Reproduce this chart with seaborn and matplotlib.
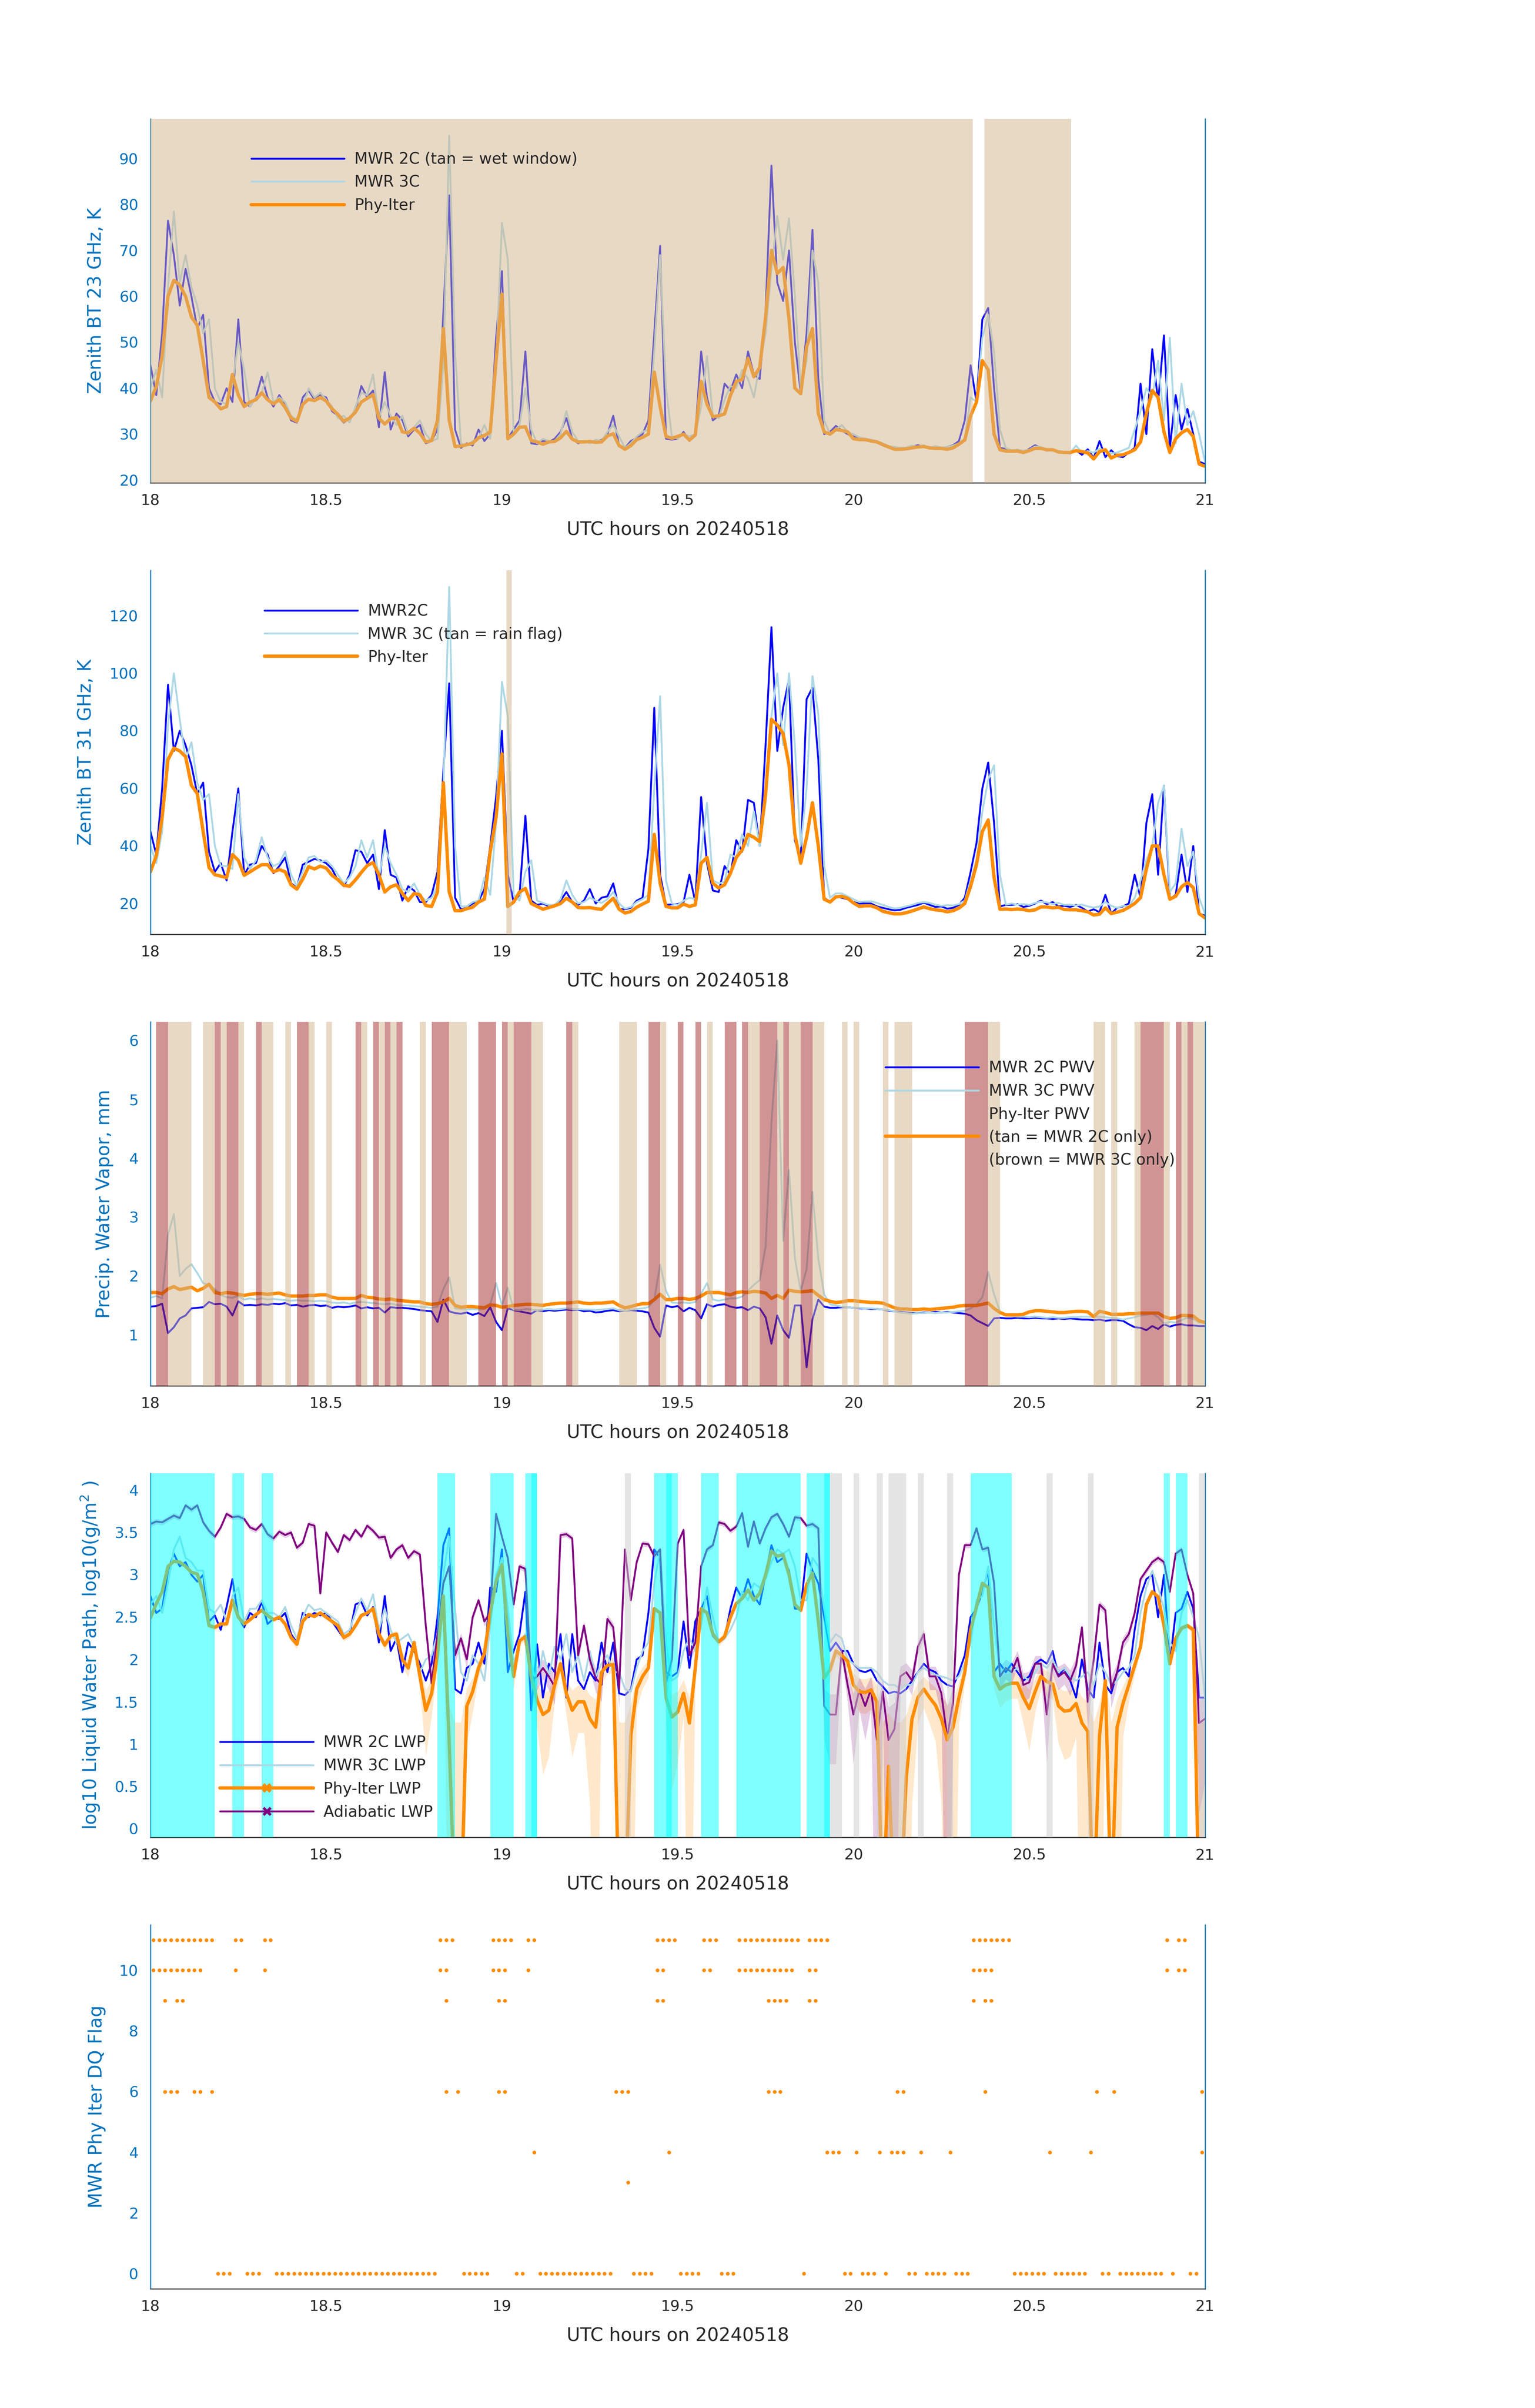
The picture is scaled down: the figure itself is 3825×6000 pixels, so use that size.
import numpy as np
import pandas as pd
import seaborn as sns
from matplotlib import pyplot as plt
from matplotlib.lines import Line2D
from matplotlib.ticker import FormatStrFormatter

# one-minute samples, 18:00 - 21:00 UTC
minutes = np.arange(181)
hours = 18 + minutes / 60.0

# ---------------- zenith brightness temperature, 23 GHz (K) ----------------
phy_bt23 = [
    37.2, 40.4, 47.0, 60.0, 63.5, 62.5, 60.0, 55.5, 53.7, 46.0,
    38.0, 37.0, 35.5, 36.0, 43.0, 38.5, 36.0, 37.0, 37.5, 39.0,
    37.5, 36.6, 37.5, 35.8, 33.5, 32.8, 36.5, 37.6, 37.3, 38.0,
    37.2, 35.5, 34.3, 32.8, 33.5, 34.8, 37.0, 37.8, 38.6, 33.5,
    32.2, 33.4, 33.6, 30.5, 30.3, 31.3, 30.2, 28.3, 28.6, 33.0,
    53.0, 33.0, 27.3, 27.4, 27.7, 28.0, 29.2, 29.7, 30.5, 46.0,
    60.5, 29.0, 30.0, 31.5, 31.6, 28.6, 28.3, 27.8, 28.3, 28.4,
    29.2, 30.6, 28.9, 28.3, 28.3, 28.4, 28.2, 28.3, 29.6, 30.1,
    27.5, 26.7, 27.5, 28.8, 29.3, 30.0, 43.5, 36.0, 29.5, 29.1,
    29.5, 30.0, 28.7, 29.8, 41.5, 36.5, 33.8, 34.0, 34.4, 38.4,
    41.5, 41.9, 46.5, 42.5, 44.5, 55.5, 70.0, 65.0, 66.3, 55.0,
    40.0, 38.8, 49.0, 53.0, 34.5, 30.5, 30.0, 31.0, 30.8, 30.5,
    29.0, 28.8, 28.8, 28.5, 28.3, 27.7, 27.2, 26.7, 26.7, 26.8,
    27.0, 27.2, 27.3, 27.0, 26.9, 26.9, 26.7, 27.0, 27.8, 28.7,
    34.0, 37.0, 46.0, 44.0, 30.0, 26.6, 26.3, 26.3, 26.3, 26.0,
    26.4, 26.9, 26.9, 26.6, 26.6, 26.1, 26.0, 26.0, 26.4, 26.2,
    25.9, 24.6, 26.2, 26.6, 24.8, 25.4, 25.5, 26.0, 26.6, 28.3,
    34.5, 39.5, 38.0, 30.5, 26.0, 29.0, 30.3, 31.0, 29.5, 23.5,
    23.0]
mwr2c_bt23 = [
    45.0, 38.5, 52.0, 76.5, 69.0, 58.0, 66.0, 60.0, 53.0, 56.0,
    40.0, 37.0, 36.5, 40.0, 37.0, 55.0, 37.0, 36.0, 38.0, 42.5,
    38.0, 36.0, 38.5, 36.5, 33.0, 32.5, 38.0, 39.5, 37.5, 38.5,
    38.0, 35.0, 34.0, 32.5, 33.5, 35.0, 40.5, 38.0, 39.5, 31.5,
    43.5, 31.0, 34.5, 33.0, 29.5, 31.0, 32.0, 28.0, 28.5, 31.0,
    56.5, 82.0, 31.0, 27.0, 28.0, 27.5, 31.0, 28.5, 30.0, 51.0,
    65.5, 29.0, 31.0, 33.0, 48.0, 28.0, 27.8, 28.5, 28.3, 29.0,
    30.5, 33.5, 29.0, 28.0, 28.5, 28.3, 28.5, 28.7, 30.0, 34.0,
    27.5, 27.0, 28.5, 29.2, 30.0, 33.0, 52.0, 71.0, 29.0, 28.8,
    29.0, 30.5, 28.5, 30.0, 48.0, 38.0, 33.0, 34.0, 41.0, 39.5,
    43.0, 40.0, 48.0, 43.0, 42.0, 57.0, 88.5, 63.0, 59.0, 70.0,
    50.0, 39.0, 52.0, 74.5, 42.0, 30.0, 30.5, 31.8, 30.8, 30.0,
    29.5, 29.0, 29.0, 28.7, 28.5, 27.8, 27.2, 27.0, 27.0, 27.0,
    27.3, 27.6, 27.2, 27.0, 27.2, 26.8, 27.2, 27.6, 28.5, 33.0,
    45.0, 37.0, 55.0, 57.5, 40.0, 27.0, 26.8, 26.4, 26.6, 26.0,
    26.8, 27.6, 27.0, 26.4, 26.6, 26.2, 26.0, 25.8, 26.5, 25.5,
    26.7, 24.8, 28.5, 25.0, 26.5, 25.2, 25.0, 26.0, 27.0, 41.0,
    30.0, 48.5, 37.0, 51.5, 27.0, 38.5, 31.0, 35.5, 30.0, 24.0,
    23.5]
mwr3c_bt23 = [
    40.0, 44.0, 38.0, 62.0, 78.5, 63.0, 69.0, 62.0, 58.0, 52.0,
    55.0, 40.0, 37.0, 36.5, 41.0, 50.0, 44.0, 36.0, 38.0, 39.0,
    43.5, 37.0, 38.0, 37.0, 34.0, 33.0, 36.0, 40.0, 38.0, 39.0,
    37.5, 36.0, 33.5, 34.0, 32.5, 36.0, 39.0, 38.5, 43.0, 33.5,
    37.0, 34.0, 32.0, 34.0, 30.0, 31.5, 33.0, 30.0, 28.5, 29.0,
    45.0, 95.0, 48.0, 28.0, 27.5, 28.5, 29.0, 32.0, 29.0, 45.0,
    76.0, 68.0, 30.0, 32.0, 40.0, 31.0, 28.0, 29.0, 28.5, 28.5,
    30.0, 35.0, 30.5, 28.5, 28.5, 28.0, 28.8, 28.5, 30.5, 32.0,
    29.5, 27.0, 28.0, 29.5, 30.5, 31.0, 48.0, 69.0, 40.0, 29.5,
    29.0, 30.0, 29.5, 30.0, 36.0, 47.0, 34.0, 33.5, 37.5, 40.5,
    40.0, 44.0, 42.0, 38.0, 45.0, 52.0, 66.0, 77.5, 68.0, 77.0,
    60.0, 40.0, 46.0, 70.0, 63.0, 33.0, 30.0, 31.0, 32.0, 30.5,
    30.0, 29.3, 29.0, 28.8, 28.5, 28.0, 27.4, 27.2, 27.0, 27.1,
    27.5, 27.3, 27.6, 27.0, 27.4, 27.1, 27.2, 27.5, 28.0, 29.0,
    38.0, 37.0, 51.0, 56.0, 48.0, 31.0, 27.0, 26.5, 26.6, 26.4,
    26.6, 27.3, 27.2, 26.7, 26.5, 26.4, 26.1, 26.0, 27.5, 26.0,
    26.3, 26.0, 26.8, 26.5, 25.8, 26.0, 26.5, 27.0, 31.0, 35.0,
    40.0, 38.0, 46.0, 33.0, 51.0, 28.0, 41.0, 32.0, 35.0, 30.0,
    24.0]
bt23_wet_spans = [(18.0, 20.339), (20.372, 20.619)]  # UTC hours

# ---------------- zenith brightness temperature, 31 GHz (K) ----------------
phy_bt31 = [
    31.0, 36.6, 50.0, 70.0, 74.0, 73.0, 71.0, 61.0, 58.2, 45.0,
    32.5, 30.0, 29.5, 29.0, 37.0, 35.0, 29.8, 31.0, 32.3, 33.5,
    33.5, 31.0, 31.8, 31.0, 26.5, 25.0, 28.5, 32.8, 32.0, 33.0,
    32.3, 29.8, 28.3, 26.3, 26.0, 28.2, 30.8, 33.2, 34.2, 30.0,
    24.0, 25.8, 26.5, 23.5, 21.0, 23.5, 23.0, 19.3, 19.0, 24.0,
    62.0, 24.0, 17.5, 17.5, 18.2, 18.7, 20.5, 21.5, 38.0, 50.0,
    72.0, 19.0, 20.5, 24.0, 25.2, 20.0, 19.0, 18.0, 18.6, 19.2,
    20.0, 21.8, 20.5, 18.6, 18.5, 18.6, 18.2, 18.0, 20.0, 21.8,
    18.0, 16.7, 17.2, 18.7, 19.8, 20.8, 44.0, 27.0, 19.0, 18.5,
    18.5, 19.8, 19.0, 19.5, 34.0, 36.0, 27.0, 25.4, 26.5, 30.5,
    36.0, 38.6, 44.0, 43.0, 41.5, 58.0, 84.0, 82.0, 79.0, 68.0,
    44.0, 34.0, 43.0, 55.0, 40.0, 21.5, 20.5, 22.3, 22.5, 21.8,
    20.2, 19.0, 19.2, 19.2, 18.5, 17.3, 16.8, 16.4, 16.4, 16.8,
    17.4, 18.1, 18.8, 18.2, 17.8, 17.6, 17.1, 17.5, 18.4, 20.0,
    26.0, 33.5, 45.0, 49.0, 29.0, 18.0, 18.1, 17.9, 18.1, 17.9,
    17.5, 17.8, 18.8, 18.8, 18.5, 18.7, 17.9, 17.8, 17.8, 17.5,
    17.1, 16.0, 16.3, 18.5, 16.5, 17.0, 17.6, 18.7, 20.0, 22.0,
    32.0, 40.0, 40.0, 30.0, 21.5, 22.5, 25.8, 27.3, 25.5, 16.5,
    15.0]
mwr2c_bt31 = [
    45.0, 37.0, 60.0, 96.0, 73.0, 80.0, 75.0, 68.0, 58.0, 62.0,
    38.0, 31.0, 34.0, 28.0, 45.0, 60.0, 30.0, 33.5, 34.0, 40.0,
    37.0, 30.5, 33.0, 36.0, 27.0, 25.5, 33.5, 34.5, 35.5, 35.0,
    34.0, 32.0, 28.0, 26.0, 30.0, 38.5, 38.0, 34.0, 37.0, 25.0,
    45.5, 30.0, 29.0, 21.0, 26.0, 24.5, 20.5, 20.5, 23.0, 31.0,
    66.0, 96.5, 22.0, 18.0, 18.5, 20.0, 20.8, 25.0, 40.0, 57.0,
    80.0, 30.0, 20.5, 23.0, 50.5, 21.0, 19.5, 20.0, 19.0, 19.5,
    21.0, 24.0, 20.5, 19.5, 21.0, 25.0, 20.0, 22.0, 22.5, 27.0,
    18.0, 18.0, 18.5, 21.0, 22.0, 39.0, 88.0, 30.0, 19.5, 19.7,
    19.8, 20.5, 30.0, 20.5, 57.0, 34.0, 24.5, 24.0, 33.0, 30.0,
    42.0, 38.0, 56.0, 55.0, 40.0, 75.0, 116.0, 73.0, 88.0, 98.0,
    42.0, 35.0, 91.0, 95.0, 70.0, 22.0, 20.5, 22.5, 22.0, 21.5,
    20.5, 20.0, 20.0, 20.0, 19.0, 18.5, 18.0, 17.6, 17.8, 18.5,
    19.0, 19.5, 20.3, 19.5, 18.8, 19.0, 18.2, 18.5, 19.5, 22.0,
    31.0, 41.0, 60.0, 69.0, 48.0, 19.0, 19.5, 19.5, 19.8, 18.8,
    19.2, 20.0, 21.0, 19.8, 20.5, 19.0, 19.2, 18.8, 19.5, 18.5,
    17.2, 18.0, 17.0, 23.0, 16.5, 18.5, 19.0, 20.0, 30.0, 22.0,
    48.0, 58.0, 30.0, 61.0, 21.5, 23.0, 37.0, 24.0, 40.0, 16.5,
    15.8]
mwr3c_bt31 = [
    40.0, 34.0, 45.0, 82.0, 100.0, 84.0, 70.0, 76.0, 62.0, 56.0,
    58.0, 40.0, 33.0, 33.0, 32.0, 58.0, 36.0, 32.0, 35.0, 43.0,
    36.0, 33.0, 34.0, 38.0, 30.0, 26.0, 31.0, 36.0, 36.5, 34.5,
    35.0, 33.0, 30.0, 27.0, 29.0, 33.0, 42.0, 36.0, 42.0, 29.0,
    40.0, 34.0, 30.0, 25.0, 24.0, 27.0, 23.0, 21.0, 22.0, 26.0,
    60.0, 130.0, 40.0, 19.0, 19.0, 20.5, 21.0, 29.0, 23.0, 48.0,
    97.0, 85.0, 23.0, 21.0, 31.0, 35.0, 21.0, 20.2, 19.5, 19.5,
    21.5, 28.0, 23.0, 20.0, 20.5, 22.0, 21.0, 20.2, 21.5, 24.0,
    20.0, 18.2, 18.8, 20.5, 21.5, 23.0, 60.0, 92.0, 28.0, 20.0,
    19.5, 21.0, 22.0, 21.5, 37.0, 55.0, 28.0, 27.0, 27.5, 37.0,
    36.0, 44.0, 40.0, 52.0, 40.0, 55.0, 85.0, 100.0, 75.0, 100.0,
    75.0, 40.0, 60.0, 99.0, 86.0, 33.0, 22.0, 23.5, 23.5, 22.5,
    21.5, 20.5, 20.7, 20.8, 20.2, 19.5, 18.8, 18.3, 18.5, 19.0,
    19.5, 20.2, 20.5, 20.2, 19.6, 19.2, 19.4, 19.3, 19.8, 21.0,
    28.0, 35.0, 52.0, 63.0, 68.0, 30.0, 19.6, 20.0, 19.6, 19.8,
    19.5, 20.2, 20.6, 20.4, 19.8, 20.2, 19.5, 19.6, 19.3, 19.6,
    19.0, 18.6, 19.0, 20.5, 19.2, 18.5, 19.2, 19.0, 22.0, 28.0,
    35.0, 40.0, 55.0, 61.0, 24.0, 27.0, 46.0, 33.0, 38.0, 22.0,
    16.5]
bt31_rain_spans = [(19.013, 19.028)]  # UTC hours

# ---------------- precipitable water vapor (mm) ----------------
phy_pwv = [
    1.72, 1.72, 1.70, 1.78, 1.82, 1.77, 1.79, 1.81, 1.75, 1.79,
    1.86, 1.72, 1.70, 1.72, 1.71, 1.69, 1.67, 1.69, 1.70, 1.70,
    1.69, 1.70, 1.71, 1.68, 1.66, 1.66, 1.66, 1.67, 1.67, 1.68,
    1.68, 1.64, 1.62, 1.62, 1.62, 1.62, 1.67, 1.64, 1.63, 1.61,
    1.60, 1.61, 1.59, 1.58, 1.57, 1.56, 1.56, 1.53, 1.52, 1.53,
    1.56, 1.62, 1.50, 1.47, 1.48, 1.48, 1.47, 1.46, 1.51, 1.50,
    1.47, 1.48, 1.50, 1.51, 1.52, 1.52, 1.51, 1.50, 1.52, 1.53,
    1.54, 1.54, 1.55, 1.56, 1.54, 1.53, 1.54, 1.54, 1.55, 1.56,
    1.50, 1.46, 1.48, 1.51, 1.53, 1.53, 1.60, 1.69, 1.60, 1.60,
    1.62, 1.62, 1.60, 1.62, 1.66, 1.72, 1.72, 1.72, 1.70, 1.68,
    1.72, 1.73, 1.72, 1.74, 1.73, 1.71, 1.62, 1.67, 1.62, 1.76,
    1.74, 1.73, 1.74, 1.75, 1.67, 1.60, 1.57, 1.55, 1.56, 1.58,
    1.58, 1.57, 1.56, 1.55, 1.55, 1.54, 1.50, 1.46, 1.44, 1.44,
    1.43, 1.43, 1.44, 1.43, 1.44, 1.45, 1.46, 1.47, 1.49, 1.50,
    1.50, 1.50, 1.52, 1.54, 1.45, 1.38, 1.34, 1.34, 1.34, 1.35,
    1.39, 1.41, 1.41, 1.40, 1.39, 1.38, 1.38, 1.39, 1.40, 1.40,
    1.39, 1.31, 1.40, 1.38, 1.35, 1.35, 1.35, 1.36, 1.36, 1.37,
    1.37, 1.37, 1.37, 1.31, 1.28, 1.29, 1.33, 1.33, 1.32, 1.24,
    1.21]
mwr2c_pwv = [
    1.48, 1.49, 1.53, 1.03, 1.13, 1.28, 1.33, 1.45, 1.46, 1.47,
    1.56, 1.52, 1.53, 1.48, 1.33, 1.57, 1.50, 1.51, 1.50, 1.52,
    1.51, 1.53, 1.52, 1.54, 1.50, 1.51, 1.48, 1.50, 1.51, 1.49,
    1.50, 1.46, 1.48, 1.47, 1.48, 1.50, 1.45, 1.47, 1.45, 1.46,
    1.38, 1.47, 1.46, 1.46, 1.45, 1.44, 1.42, 1.41, 1.40, 1.22,
    1.60, 1.40, 1.37, 1.36, 1.38, 1.34, 1.37, 1.32, 1.47, 1.22,
    1.08, 1.45, 1.42, 1.40, 1.38, 1.36, 1.42, 1.40, 1.42, 1.41,
    1.42, 1.43, 1.42, 1.43, 1.40, 1.41, 1.38, 1.39, 1.41, 1.42,
    1.40, 1.41, 1.42, 1.41, 1.40, 1.38, 1.12, 0.97, 1.50, 1.47,
    1.49, 1.40, 1.46, 1.42, 1.28, 1.52, 1.48, 1.51, 1.52, 1.48,
    1.46, 1.47, 1.42, 1.48, 1.45, 1.30, 0.85, 1.33, 1.08, 0.95,
    1.50, 1.50, 0.45, 1.26, 1.60, 1.48, 1.46, 1.46, 1.47, 1.47,
    1.46, 1.45, 1.45, 1.44, 1.44, 1.43, 1.41, 1.40, 1.39, 1.38,
    1.37, 1.37, 1.38, 1.38, 1.39, 1.38, 1.39, 1.38, 1.37, 1.36,
    1.33, 1.25, 1.20, 1.15, 1.28, 1.29, 1.28, 1.28, 1.29, 1.28,
    1.28, 1.29, 1.28, 1.28, 1.27, 1.28, 1.27, 1.28, 1.27, 1.26,
    1.26, 1.25, 1.26, 1.24, 1.25, 1.25, 1.24, 1.18, 1.13, 1.12,
    1.08, 1.15, 1.10, 1.18, 1.14, 1.17, 1.18, 1.16, 1.16, 1.15,
    1.15]
mwr3c_pwv = [
    1.63, 1.66, 1.62, 2.70, 3.05, 2.00, 2.12, 2.20, 2.05, 1.88,
    1.85, 1.78, 1.68, 1.64, 1.63, 1.66, 1.60, 1.62, 1.60, 1.62,
    1.60, 1.61, 1.60, 1.59, 1.58, 1.59, 1.58, 1.58, 1.57, 1.58,
    1.57, 1.55, 1.54, 1.55, 1.53, 1.55, 1.56, 1.55, 1.54, 1.53,
    1.52, 1.53, 1.51, 1.50, 1.50, 1.49, 1.48, 1.47, 1.46, 1.48,
    1.78, 1.98, 1.45, 1.44, 1.43, 1.44, 1.43, 1.44, 1.52, 1.88,
    1.50, 1.80, 1.43, 1.42, 1.44, 1.43, 1.42, 1.43, 1.44, 1.43,
    1.44, 1.45, 1.44, 1.44, 1.43, 1.43, 1.42, 1.43, 1.44, 1.45,
    1.42, 1.41, 1.43, 1.44, 1.45, 1.47, 1.60, 2.19, 1.75, 1.55,
    1.54, 1.55, 1.54, 1.56, 1.70, 1.88, 1.60, 1.58, 1.60, 1.62,
    1.62, 1.65, 1.75, 1.85, 1.93, 2.50, 4.60, 6.00, 2.60, 3.80,
    2.30, 1.74, 2.12, 3.43, 2.30, 1.69, 1.52, 1.50, 1.48, 1.47,
    1.46, 1.46, 1.45, 1.45, 1.44, 1.43, 1.42, 1.40, 1.38, 1.37,
    1.36, 1.37, 1.37, 1.38, 1.37, 1.38, 1.38, 1.39, 1.40, 1.41,
    1.45, 1.52, 1.64, 2.07, 1.69, 1.40, 1.33, 1.32, 1.31, 1.31,
    1.30, 1.31, 1.30, 1.29, 1.30, 1.29, 1.29, 1.30, 1.30, 1.31,
    1.31, 1.30, 1.31, 1.30, 1.29, 1.28, 1.26, 1.28, 1.30, 1.33,
    1.34, 1.36, 1.30, 1.19, 1.22, 1.21, 1.25, 1.29, 1.27, 1.21,
    1.21]
# minutes after 18 UTC
pwv_tan_spans = [(3, 7), (9, 11), (12, 13), (15, 16), (19, 21), (23, 24),
                 (27, 28), (30, 31), (36, 37), (39, 40), (41, 42), (46, 47),
                 (51, 54), (61, 62), (65, 67), (72, 73), (80, 83), (87, 88),
                 (95, 96), (102, 104), (107, 108), (109, 111), (113, 115),
                 (118, 119), (120, 121), (125, 126), (127, 130), (143, 145),
                 (161, 163), (164, 165), (168, 169), (173, 174), (176, 177),
                 (178, 180.5)]
pwv_brown_spans = [(1, 3), (11, 12), (13, 15), (18, 19), (25, 27), (35, 36),
                   (38, 39), (40, 41), (42, 43), (48, 51), (56, 59), (60, 61),
                   (62, 65), (71, 72), (85, 87), (90, 91), (93, 94), (98, 100),
                   (101, 102), (104, 107), (108, 109), (111, 113), (139, 143),
                   (169, 173), (175, 176), (177, 178)]

# ---------------- liquid water path, log10(g/m2) ----------------
phy_lwp = [
    2.49, 2.66, 2.80, 3.10, 3.16, 3.15, 3.10, 3.03, 3.01, 2.80,
    2.40, 2.38, 2.42, 2.42, 2.70, 2.50, 2.42, 2.47, 2.53, 2.58,
    2.52, 2.47, 2.50, 2.42, 2.26, 2.18, 2.45, 2.53, 2.51, 2.55,
    2.50, 2.45, 2.40, 2.26, 2.30, 2.40, 2.52, 2.55, 2.60, 2.30,
    2.17, 2.28, 2.30, 2.00, 1.90, 2.20, 1.80, 1.40, 1.60, 2.05,
    2.75, 1.00, -1.0, -1.0, 1.45, 1.62, 1.90, 2.07, 2.55, 2.92,
    3.12, 2.30, 1.80, 2.22, 2.27, 1.80, 1.52, 1.35, 1.40, 1.70,
    1.95, 1.60, 1.40, 1.50, 1.50, 1.30, 1.20, 1.85, 1.93, 1.94,
    -1.0, -1.0, 1.10, 1.65, 1.80, 1.90, 2.60, 2.55, 1.55, 1.32,
    1.38, 1.60, 1.25, 1.90, 2.60, 2.55, 2.30, 2.21, 2.27, 2.50,
    2.66, 2.72, 2.82, 2.70, 2.78, 3.00, 3.28, 3.22, 3.24, 3.00,
    2.65, 2.58, 2.88, 3.02, 2.45, 1.78, 1.88, 2.10, 2.05, 1.98,
    1.70, 1.62, 1.61, 1.64, 1.50, -1.0, 0.74, -1.0, -1.0, 0.60,
    1.30, 1.55, 1.65, 1.55, 1.46, 1.30, 1.05, 1.20, 1.55, 1.85,
    2.35, 2.62, 2.90, 2.85, 1.80, 1.65, 1.70, 1.72, 1.72, 1.55,
    1.42, 1.62, 1.80, 1.74, 1.71, 1.45, 1.39, 1.40, 1.48, 1.25,
    1.15, -1.0, 1.10, 1.75, -1.0, 1.20, 1.48, 1.70, 1.93, 2.15,
    2.65, 2.80, 2.74, 2.40, 1.95, 2.25, 2.37, 2.40, 2.35, -1.0,
    -1.0]
mwr2c_lwp = [
    2.75, 2.55, 2.60, 3.05, 3.25, 3.10, 3.15, 3.00, 2.92, 3.00,
    2.45, 2.52, 2.35, 2.62, 2.95, 2.50, 2.38, 2.55, 2.50, 2.68,
    2.42, 2.48, 2.48, 2.55, 2.30, 2.20, 2.55, 2.50, 2.55, 2.52,
    2.55, 2.45, 2.35, 2.25, 2.30, 2.65, 2.68, 2.52, 2.62, 2.20,
    2.75, 2.10, 2.25, 1.85, 2.20, 2.10, 1.95, 1.75, 1.95, 2.50,
    3.35, 3.55, 1.65, 1.60, 1.90, 1.95, 2.20, 1.95, 2.85, 2.80,
    3.30, 1.85, 2.10, 2.30, 2.80, 1.40, 2.18, 1.55, 1.95, 1.85,
    2.30, 1.55, 2.30, 1.75, 1.65, 1.85, 1.75, 2.20, 1.85, 2.20,
    1.60, 1.58, 1.65, 2.00, 2.05, 2.55, 3.30, 3.20, 1.85, 1.80,
    1.85, 2.45, 1.90, 2.45, 2.60, 2.75, 2.28, 2.20, 2.25, 2.60,
    2.85, 2.72, 2.95, 2.75, 2.65, 3.00, 3.35, 3.15, 3.20, 3.05,
    2.60, 2.60, 3.25, 3.05, 2.90, 2.50, 2.10, 2.20, 2.10, 2.10,
    1.95, 1.87, 1.85, 1.88, 1.75, 1.68, 1.60, 1.62, 1.60, 1.65,
    1.75, 1.85, 1.95, 1.88, 1.85, 1.75, 1.70, 1.68, 1.85, 2.05,
    2.50, 2.60, 2.80, 3.05, 1.85, 1.95, 1.85, 1.95, 1.85, 1.75,
    1.80, 1.95, 2.00, 1.95, 2.10, 1.80, 1.90, 1.75, 1.55, 2.00,
    1.65, 1.55, 2.20, 1.70, 1.60, 1.85, 1.90, 1.80, 2.35, 2.75,
    2.95, 3.00, 2.50, 3.00, 1.95, 2.55, 2.60, 2.80, 2.60, 1.55,
    1.55]
mwr3c_lwp = [
    2.65, 2.75, 2.55, 2.90, 3.30, 3.45, 3.20, 3.15, 3.05, 3.05,
    2.60, 2.55, 2.65, 2.45, 2.75, 2.85, 2.45, 2.60, 2.60, 2.70,
    2.55, 2.55, 2.50, 2.62, 2.40, 2.25, 2.50, 2.65, 2.58, 2.60,
    2.55, 2.50, 2.45, 2.30, 2.35, 2.55, 2.72, 2.58, 2.77, 2.35,
    2.60, 2.35, 2.20, 2.25, 2.30, 2.15, 1.85, 2.00, 2.05, 2.30,
    3.00, 3.45, 2.60, 1.85, 1.75, 2.05, 1.95, 1.75, 2.40, 3.00,
    3.20, 2.60, 1.95, 2.20, 2.30, 1.95, 1.70, 2.10, 1.80, 2.15,
    2.00, 2.30, 1.85, 2.05, 1.75, 2.10, 1.80, 1.95, 2.05, 1.85,
    1.85, 1.65, 1.62, 1.90, 2.10, 2.20, 2.90, 3.30, 2.20, 1.75,
    1.80, 2.10, 2.25, 2.10, 2.40, 2.85, 2.50, 2.20, 2.25, 2.35,
    2.50, 2.80, 2.70, 2.90, 2.85, 2.95, 3.15, 3.30, 3.25, 3.30,
    3.10, 2.70, 2.70, 3.20, 3.10, 2.60, 2.20, 2.30, 2.25, 2.00,
    1.95, 1.90, 1.90, 1.90, 1.85, 1.75, 1.70, 1.70, 1.65, 1.70,
    1.70, 1.85, 1.90, 1.85, 1.82, 1.80, 1.78, 1.75, 1.80, 1.95,
    2.20, 2.70, 2.75, 3.10, 2.40, 1.85, 1.90, 1.85, 1.90, 1.80,
    1.75, 1.85, 1.95, 1.90, 2.00, 1.85, 1.90, 1.80, 1.75, 1.80,
    1.85, 1.70, 1.95, 1.85, 1.70, 1.75, 1.85, 1.90, 2.05, 2.55,
    2.85, 3.05, 2.85, 2.60, 2.20, 2.10, 2.55, 2.70, 2.50, 2.25,
    1.55]
adiabatic_lwp = [
    3.60, 3.63, 3.62, 3.66, 3.70, 3.67, 3.82, 3.77, 3.82, 3.62,
    3.52, 3.45, 3.56, 3.72, 3.68, 3.69, 3.66, 3.56, 3.53, 3.60,
    3.48, 3.43, 3.51, 3.47, 3.50, 3.32, 3.38, 3.60, 3.58, 2.78,
    3.50, 3.38, 3.27, 3.47, 3.41, 3.53, 3.45, 3.58, 3.52, 3.44,
    3.45, 3.20, 3.30, 3.35, 3.20, 3.28, 3.24, 2.40, 1.72, 2.30,
    2.90, 3.10, 2.05, 2.25, 2.00, 2.50, 2.70, 2.45, 2.55, 3.72,
    3.45, 3.20, 2.65, 3.10, 3.07, 1.75, 1.80, 1.90, 1.80, 1.68,
    3.47, 3.48, 3.43, 2.05, 2.40, 2.00, 1.78, 1.70, 2.48, 2.38,
    1.65, 3.30, 2.70, 3.15, 3.37, 3.36, 3.22, 3.30, 1.72, 2.00,
    3.37, 3.53, 2.05, 2.20, 3.10, 3.30, 3.35, 3.62, 3.60, 3.52,
    3.57, 3.73, 3.33, 3.63, 3.37, 3.55, 3.68, 3.72, 3.60, 3.45,
    3.68, 3.67, 3.58, 3.60, 3.55, 1.45, 1.35, 1.35, 2.10, 1.70,
    1.35, 1.64, 1.45, 1.65, 1.05, 1.62, 1.05, 1.18, 1.80, 1.85,
    1.75, 2.15, 2.30, 1.80, 1.80, 1.60, 1.08, 1.50, 3.00, 3.35,
    3.35, 3.55, 3.30, 3.32, 2.90, 1.80, 1.90, 1.85, 2.02, 1.70,
    1.73, 1.95, 1.95, 1.35, 1.95, 1.80, 1.85, 1.75, 1.93, 2.38,
    1.50, 2.00, 2.65, 2.58, 1.65, 1.85, 2.20, 2.30, 2.55, 2.95,
    3.05, 3.15, 3.20, 3.15, 2.80, 3.25, 3.30, 3.00, 2.78, 1.25,
    1.30]
phy_lwp_sigma = 18.0       # g/m2, retrieval uncertainty
adiabatic_rel_unc = 0.07   # fractional
adiabatic_abs_unc = 15.0   # g/m2
lwp_cyan_spans = [(0, 11), (14, 16), (19, 21), (49, 52), (58, 62), (64, 66),
                  (65, 66), (86, 89), (88, 90), (94, 97), (100, 111),
                  (112, 116), (115, 116), (140, 147), (173, 174), (175, 177)]
lwp_gray_spans = [(81, 82), (116, 118), (120, 121), (124, 125), (126, 129),
                  (131, 132), (136, 137), (153, 154), (160, 161), (179, 180)]

# ---------------- Phy-Iter DQ flag (minute of record for each flag value) ----
flag_offset_min = 0.5
dq_flag_minutes = {
    11: [0, 1, 2, 3, 4, 5, 6, 7, 8, 9, 10, 14, 15, 19, 20, 49, 50, 51, 58, 59,
         60, 61, 64, 65, 86, 87, 88, 89, 94, 95, 96, 100, 101, 102, 103, 104,
         105, 106, 107, 108, 109, 110, 112, 113, 114, 115, 140, 141, 142, 143,
         144, 145, 146, 173, 175, 176],
    10: [0, 1, 2, 3, 4, 5, 6, 7, 8, 14, 19, 49, 50, 58, 59, 60, 64, 86, 87, 94,
         95, 100, 101, 102, 103, 104, 105, 106, 107, 108, 109, 112, 113, 140,
         141, 142, 143, 173, 175, 176],
    9: [2, 4, 5, 50, 59, 60, 86, 87, 105, 106, 107, 108, 112, 113, 140, 142,
        143],
    6: [2, 3, 4, 7, 8, 10, 50, 52, 59, 60, 79, 80, 81, 105, 106, 107, 127, 128,
        142, 161, 164, 179, 180],
    4: [65, 88, 115, 116, 117, 120, 124, 126, 127, 128, 131, 136, 153, 160,
        179],
    3: [81],
    0: [11, 12, 13, 16, 17, 18, 21, 22, 23, 24, 25, 26, 27, 28, 29, 30, 31, 32,
        33, 34, 35, 36, 37, 38, 39, 40, 41, 42, 43, 44, 45, 46, 47, 48, 53, 54,
        55, 56, 57, 62, 63, 66, 67, 68, 69, 70, 71, 72, 73, 74, 75, 76, 77, 78,
        82, 83, 84, 85, 90, 91, 92, 93, 97, 98, 99, 111, 118, 119, 121, 122,
        123, 125, 129, 130, 132, 133, 134, 135, 137, 138, 139, 147, 148, 149,
        150, 151, 152, 154, 155, 156, 157, 158, 159, 162, 163, 165, 166, 167,
        168, 169, 170, 171, 172, 174, 177, 178],
}

BLUE = "#0000FF"
LIGHTBLUE = "#ADD8E6"
ORANGE = "#FF8C00"
PURPLE = "#800080"
TAN = "#D2B48C"
BROWN = "#A52A2A"
CYAN = "#00FFFF"
GRAY = "#CCCCCC"
AXBLUE = "#0072BD"
DARK = "#262626"
THIN = 1.1
THICK = 2.0


def line(ax, y, color, lw, z=2):
    sns.lineplot(x=hours, y=np.asarray(y, dtype=float), ax=ax, color=color,
                 linewidth=lw, errorbar=None, sort=False, legend=False,
                 zorder=z)


def spans(ax, intervals, color, in_minutes=True):
    for a, b in intervals:
        if in_minutes:
            a, b = 18 + a / 60.0, 18 + b / 60.0
        ax.axvspan(a, b, color=color, alpha=0.5, lw=0, zorder=3)


def style(ax, ylabel, ylim, yticks, label_x):
    ax.set_xlim(18, 21)
    ax.set_ylim(*ylim)
    ax.set_xticks([18, 18.5, 19, 19.5, 20, 20.5, 21])
    ax.set_yticks(yticks)
    ax.xaxis.set_major_formatter(FormatStrFormatter("%g"))
    ax.yaxis.set_major_formatter(FormatStrFormatter("%g"))
    ax.tick_params(axis="x", direction="in", length=6.2, width=0.5,
                   colors=DARK, labelsize=9, pad=6.6, top=False)
    ax.tick_params(axis="y", direction="in", length=6.2, width=0.5,
                   colors=AXBLUE, labelsize=9, pad=7.2, right=False)
    ax.set_xlabel("UTC hours on 20240518", fontsize=11, color=DARK)
    ax.xaxis.set_label_coords(0.5, -0.104)
    ax.set_ylabel(ylabel, fontsize=11, color=AXBLUE)
    ax.yaxis.set_label_coords(label_x, 0.5)
    ax.spines["top"].set_visible(False)
    ax.spines["left"].set_color(AXBLUE)
    ax.spines["right"].set_color(AXBLUE)
    ax.spines["bottom"].set_color(DARK)
    for s in ("left", "right", "bottom"):
        ax.spines[s].set_linewidth(0.6)


def legend(ax, handles, labels, loc, anchor):
    leg = ax.legend(handles, labels, loc=loc, bbox_to_anchor=anchor,
                    frameon=False, fontsize=9.3, handlelength=6.0,
                    handletextpad=0.65, labelspacing=0.5, borderpad=0,
                    borderaxespad=0, numpoints=1)
    leg.set_zorder(10)
    return leg


for arr in (phy_bt23, mwr2c_bt23, mwr3c_bt23, phy_bt31, mwr2c_bt31,
            mwr3c_bt31, phy_pwv, mwr2c_pwv, mwr3c_pwv, phy_lwp, mwr2c_lwp,
            mwr3c_lwp, adiabatic_lwp):
    assert len(arr) == len(hours), len(arr)

sns.set_theme(style="white")
plt.rcParams["font.family"] = ["DejaVu Sans"]
plt.rcParams["mathtext.fontset"] = "dejavusans"

fig = plt.figure(figsize=(12.75, 20), dpi=300)
left, width, height = 0.098, 0.687, 0.1512
bottoms = [0.7995, 0.612, 0.4245, 0.237, 0.0495]
axes = [fig.add_axes([left, b, width, height]) for b in bottoms]

# panel 1: 23 GHz
ax = axes[0]
line(ax, mwr2c_bt23, BLUE, THIN)
line(ax, mwr3c_bt23, LIGHTBLUE, THIN)
line(ax, phy_bt23, ORANGE, THICK)
spans(ax, bt23_wet_spans, TAN, in_minutes=False)
style(ax, "Zenith BT 23 GHz, K", (19.4, 98.7), range(20, 100, 10), -0.043)
legend(ax, [Line2D([], [], color=BLUE, lw=THIN),
            Line2D([], [], color=LIGHTBLUE, lw=THIN),
            Line2D([], [], color=ORANGE, lw=THICK)],
       ["MWR 2C (tan = wet window)", "MWR 3C", "Phy-Iter"],
       "upper left", (0.0955, 0.909))

# panel 2: 31 GHz
ax = axes[1]
line(ax, mwr2c_bt31, BLUE, THIN)
line(ax, mwr3c_bt31, LIGHTBLUE, THIN)
line(ax, phy_bt31, ORANGE, THICK)
spans(ax, bt31_rain_spans, TAN, in_minutes=False)
style(ax, "Zenith BT 31 GHz, K", (9.3, 135.8), range(20, 140, 20), -0.0525)
legend(ax, [Line2D([], [], color=BLUE, lw=THIN),
            Line2D([], [], color=LIGHTBLUE, lw=THIN),
            Line2D([], [], color=ORANGE, lw=THICK)],
       ["MWR2C", "MWR 3C (tan = rain flag)", "Phy-Iter"],
       "upper left", (0.108, 0.908))

# panel 3: PWV
ax = axes[2]
line(ax, mwr2c_pwv, BLUE, THIN)
line(ax, mwr3c_pwv, LIGHTBLUE, THIN)
line(ax, phy_pwv, ORANGE, THICK)
spans(ax, pwv_tan_spans, TAN)
spans(ax, pwv_brown_spans, BROWN)
style(ax, "Precip. Water Vapor, mm", (0.135, 6.32), range(1, 7), -0.035)
blank = Line2D([], [], color="none", lw=0)
legend(ax, [Line2D([], [], color=BLUE, lw=THIN),
            Line2D([], [], color=LIGHTBLUE, lw=THIN),
            blank,
            Line2D([], [], color=ORANGE, lw=THICK),
            blank],
       ["MWR 2C PWV", "MWR 3C PWV", "Phy-Iter PWV", "(tan = MWR 2C only)",
        "(brown = MWR 3C only)"],
       "upper left", (0.697, 0.893))

# panel 4: LWP
ax = axes[3]
phy_lin = 10 ** np.asarray(phy_lwp)
phy_lo = np.log10(np.clip(phy_lin - phy_lwp_sigma, 1e-3, None))
phy_hi = np.log10(phy_lin + phy_lwp_sigma)
adi_lin = 10 ** np.asarray(adiabatic_lwp)
adi_unc = adi_lin * adiabatic_rel_unc + adiabatic_abs_unc
adi_lo = np.log10(np.clip(adi_lin - adi_unc, 1e-3, None))
adi_hi = np.log10(adi_lin + adi_unc)
ax.fill_between(hours, phy_lo, phy_hi, color=ORANGE, alpha=0.2, lw=0,
                zorder=1.5)
ax.fill_between(hours, adi_lo, adi_hi, color=PURPLE, alpha=0.2, lw=0,
                zorder=1.5)
line(ax, mwr2c_lwp, BLUE, THIN)
line(ax, mwr3c_lwp, LIGHTBLUE, THIN)
line(ax, adiabatic_lwp, PURPLE, THIN)
line(ax, phy_lwp, ORANGE, THICK)
spans(ax, lwp_cyan_spans, CYAN)
spans(ax, lwp_gray_spans, GRAY)
style(ax, "log10 Liquid Water Path, log10(g/m$^{2}$ )", (-0.1, 4.2),
      np.arange(0, 4.5, 0.5), -0.0468)
legend(ax, [Line2D([], [], color=BLUE, lw=THIN),
            Line2D([], [], color=LIGHTBLUE, lw=THIN),
            Line2D([], [], color=ORANGE, lw=THICK, marker="x", markersize=4.5,
                   markeredgewidth=2.0),
            Line2D([], [], color=PURPLE, lw=THIN, marker="x", markersize=4.5,
                   markeredgewidth=1.6)],
       ["MWR 2C LWP", "MWR 3C LWP", "Phy-Iter LWP", "Adiabatic LWP"],
       "upper left", (0.066, 0.280))

# panel 5: DQ flags
ax = axes[4]
flag_rows = [(18 + (m + flag_offset_min) / 60.0, flag)
             for flag, mins in dq_flag_minutes.items() for m in mins]
flags = pd.DataFrame(flag_rows, columns=["hour", "flag"])
sns.scatterplot(data=flags, x="hour", y="flag", ax=ax, color=ORANGE, s=5,
                linewidth=0, legend=False, zorder=2)
style(ax, "MWR Phy Iter DQ Flag", (-0.5, 11.5), range(0, 12, 2), -0.0422)

fig.savefig("out.png", dpi=300, facecolor="white")
